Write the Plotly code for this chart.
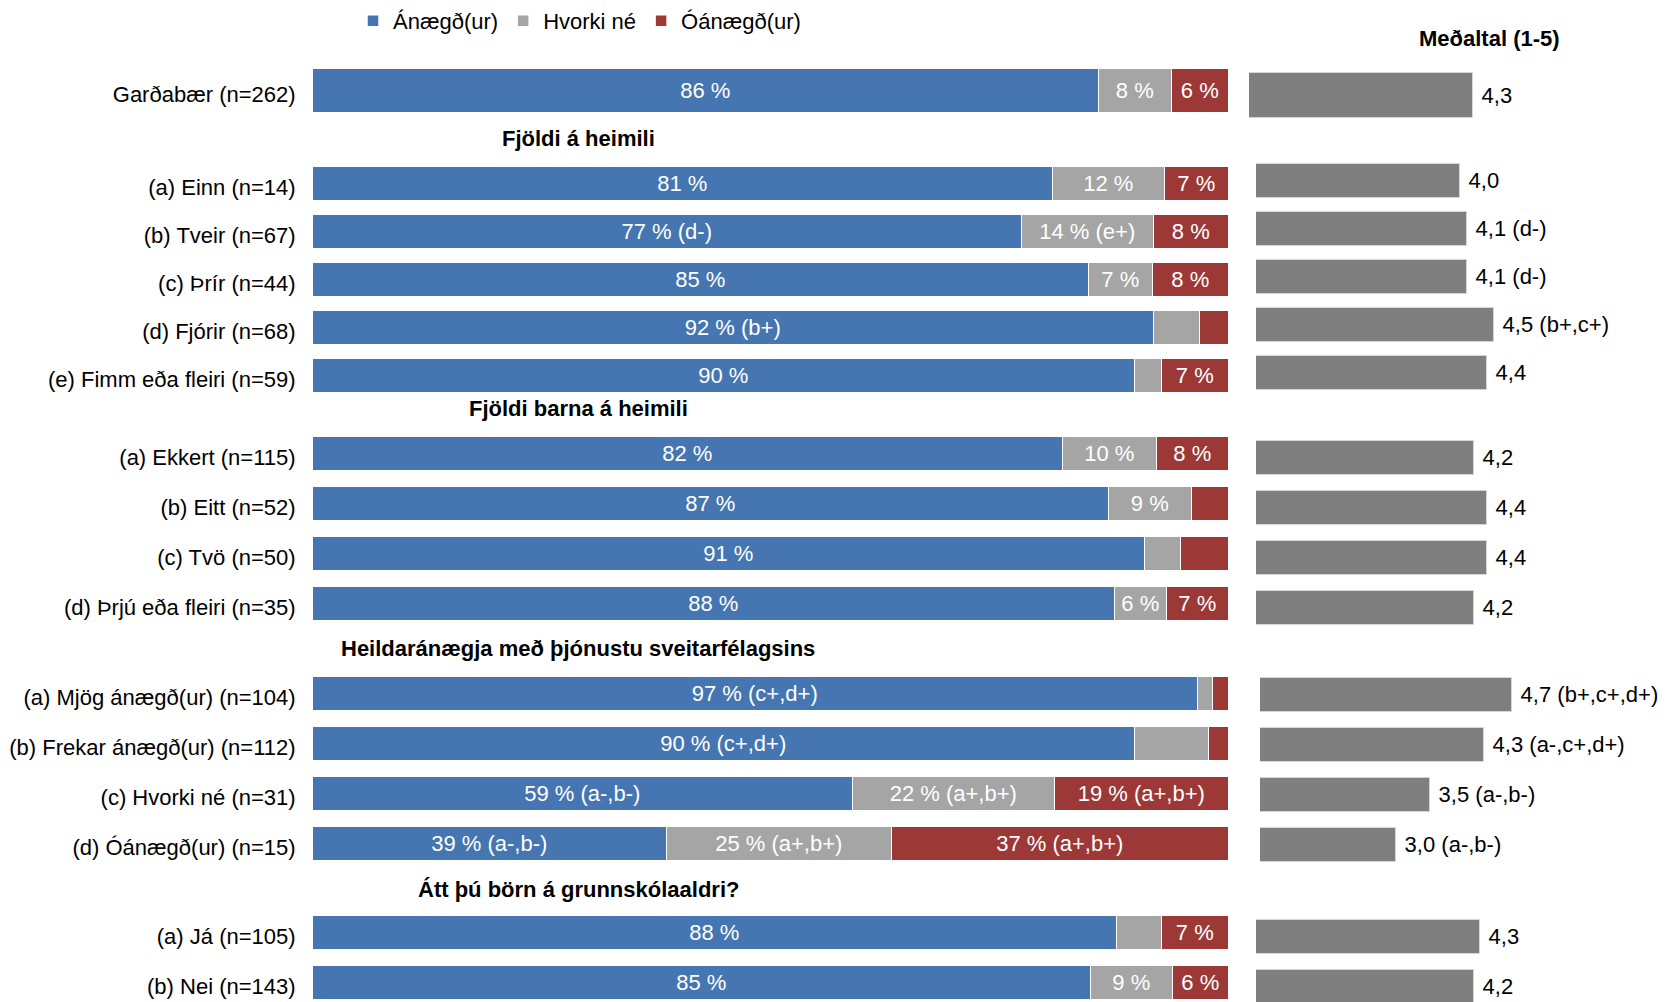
import plotly.graph_objects as go

W, H = 1673, 1002

# ---------------- data ----------------
row_labels = [
    "Garðabær (n=262)",
    "(a) Einn (n=14)", "(b) Tveir (n=67)", "(c) Þrír (n=44)", "(d) Fjórir (n=68)",
    "(e) Fimm eða fleiri (n=59)",
    "(a) Ekkert (n=115)", "(b) Eitt (n=52)", "(c) Tvö (n=50)", "(d) Þrjú eða fleiri (n=35)",
    "(a) Mjög ánægð(ur) (n=104)", "(b) Frekar ánægð(ur) (n=112)", "(c) Hvorki né (n=31)",
    "(d) Óánægð(ur) (n=15)",
    "(a) Já (n=105)", "(b) Nei (n=143)",
]
row_section = [0, 1, 1, 1, 1, 1, 2, 2, 2, 2, 3, 3, 3, 3, 4, 4]
section_titles = [
    "Fjöldi á heimili",
    "Fjöldi barna á heimili",
    "Heildaránægja með þjónustu sveitarfélagsins",
    "Átt þú börn á grunnskólaaldri?",
]

series_names = ["Ánægð(ur)", "Hvorki né", "Óánægð(ur)"]
satisfied = [85.8, 80.8, 77.4, 84.7, 91.8, 89.7, 81.9, 86.9, 90.8, 87.5, 96.6, 89.7, 58.9, 38.6, 87.8, 84.9]
neutral = [8.0, 12.2, 14.4, 7.0, 5.0, 3.0, 10.2, 9.1, 4.0, 5.7, 1.6, 8.1, 22.1, 24.6, 4.9, 9.0]
dissatisfied = [6.2, 7.0, 8.2, 8.3, 3.2, 7.3, 7.9, 4.0, 5.2, 6.8, 1.8, 2.2, 19.0, 36.8, 7.3, 6.1]

# significance suffixes (None = no label printed on that segment)
satisfied_sig = ["", "", " (d-)", "", " (b+)", "", "", "", "", "", " (c+,d+)", " (c+,d+)",
                 " (a-,b-)", " (a-,b-)", "", ""]
neutral_sig = ["", "", " (e+)", "", None, None, "", "", None, "", None, None,
               " (a+,b+)", " (a+,b+)", None, ""]
dissatisfied_sig = ["", "", "", "", None, "", "", None, None, "", None, None,
                    " (a+,b+)", " (a+,b+)", "", ""]

means = [4.3, 4.0, 4.1, 4.1, 4.5, 4.4, 4.2, 4.4, 4.4, 4.2, 4.7, 4.3, 3.5, 3.0, 4.3, 4.2]
mean_sig = ["", "", " (d-)", " (d-)", " (b+,c+)", "", "", "", "", "", " (b+,c+,d+)",
            " (a-,c+,d+)", " (a-,b-)", " (a-,b-)", "", ""]
mean_title = "Meðaltal (1-5)"

# ---------------- layout helpers ----------------
FONT = "Liberation Sans, Arial, sans-serif"
BLUE, GREY, RED, MEAN_GREY = "#4676B1", "#A5A5A5", "#9C3937", "#7F7F7F"

first_row_y = 91
header_gap_before = [47, 32, 44, 45]
header_gap_after = [46, 46, 46, 44]
row_pitch = [48, 50, 50, 50]
label_dy = 3
# the mean panel of each section sits slightly differently (pixels)
mean_panel_left = [1249, 1256, 1256, 1260, 1256]
mean_panel_dy = [4, -3, 4, 1, 4]
px_per_unit = 68

ys, header_ys = [], []
y = first_row_y
prev = 0
for i, s in enumerate(row_section):
    if i > 0:
        if s != prev:
            y += header_gap_before[s - 1]
            header_ys.append(y)
            y += header_gap_after[s - 1]
        else:
            y += row_pitch[s - 1]
    ys.append(y)
    prev = s

bar_w = [44 if s == 0 else 34 for s in row_section]


def seg_text(vals, sigs):
    return ["" if sg is None else f"{round(v)} %{sg}" for v, sg in zip(vals, sigs)]


mean_text = ["\u00a0" + f"{m:.1f}".replace(".", ",") + sg for m, sg in zip(means, mean_sig)]

fig = go.Figure()
for name, vals, sigs, col in [
    (series_names[0], satisfied, satisfied_sig, BLUE),
    (series_names[1], neutral, neutral_sig, GREY),
    (series_names[2], dissatisfied, dissatisfied_sig, RED),
]:
    fig.add_trace(go.Bar(
        y=ys, x=vals, orientation="h", width=bar_w, name=name,
        marker=dict(color=col, line=dict(color="white", width=1.5)),
        text=seg_text(vals, sigs), textposition="inside", insidetextanchor="middle",
        constraintext="none", textfont=dict(color="white", size=22, family=FONT),
        xaxis="x", yaxis="y", hoverinfo="x+name",
    ))

MEAN_MIN = 1
layout_axes = {}
for s in range(len(mean_panel_left)):
    idx = [i for i, rs in enumerate(row_section) if rs == s]
    ax_id = s + 2
    fig.add_trace(go.Bar(
        y=[ys[i] + mean_panel_dy[s] for i in idx],
        x=[means[i] - MEAN_MIN for i in idx], base=MEAN_MIN, orientation="h",
        width=[bar_w[i] + (1 if s == 0 else 0) for i in idx],
        marker=dict(color=MEAN_GREY, line=dict(color="#D6D6D6", width=1)),
        text=[mean_text[i] for i in idx], textposition="outside", cliponaxis=False,
        constraintext="none", textfont=dict(color="black", size=22, family=FONT),
        xaxis=f"x{ax_id}", yaxis="y", showlegend=False, name=mean_title,
    ))
    left = mean_panel_left[s]
    layout_axes[f"xaxis{ax_id}"] = dict(
        domain=[left / W, 1], range=[MEAN_MIN, MEAN_MIN + (W - left) / px_per_unit],
        visible=False, anchor="y")

annotations = [
    dict(text=f"<b>{t}</b>", x=578 / W, xref="paper", y=hy, yref="y", showarrow=False,
         xanchor="center", yanchor="middle", font=dict(size=22, color="black", family=FONT))
    for t, hy in zip(section_titles, header_ys)
]
annotations.append(dict(text=f"<b>{mean_title}</b>", x=1489 / W, xref="paper", y=38, yref="y",
                        showarrow=False, xanchor="center", yanchor="middle",
                        font=dict(size=22, color="black", family=FONT)))

fig.update_layout(
    width=W, height=H, margin=dict(l=0, r=0, t=0, b=0),
    paper_bgcolor="white", plot_bgcolor="rgba(0,0,0,0)",
    barmode="stack", bargap=0,
    font=dict(family=FONT, size=22, color="black"),
    xaxis=dict(domain=[313 / W, 1229 / W], range=[0, 100], visible=False),
    yaxis=dict(domain=[0, 1], range=[H, 0], tickvals=[v + label_dy for v in ys],
               ticktext=row_labels,
               ticks="outside", ticklen=12, tickcolor="rgba(0,0,0,0)",
               showgrid=False, zeroline=False, showline=False,
               tickfont=dict(size=22, color="black", family=FONT)),
    legend=dict(orientation="h", x=353 / W, xanchor="left", y=1, yanchor="top",
                font=dict(size=22, family=FONT), traceorder="normal"),
    annotations=annotations,
    **layout_axes,
)

fig.write_html("out.html", config={"displayModeBar": False},
               post_script="document.body.style.margin='0';document.body.style.overflow='hidden';")
